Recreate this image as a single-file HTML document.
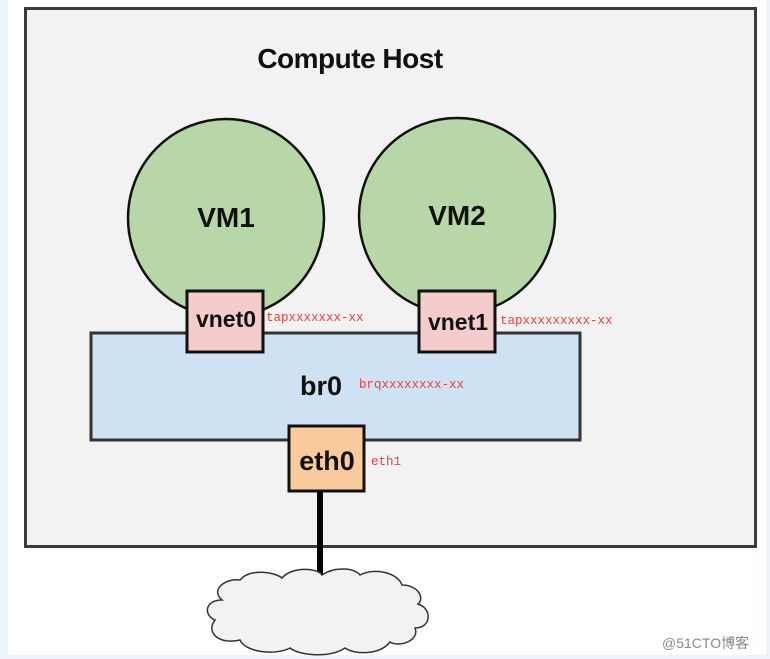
<!DOCTYPE html>
<html><head><style>
body{margin:0;width:770px;height:659px;background:#fff;position:relative;overflow:hidden;font-family:"Liberation Sans",sans-serif}
.a{position:absolute}
.c{position:absolute;text-align:center;font-weight:bold;color:#111}
.lbl{position:absolute;font-family:"Liberation Mono",monospace;color:#f03c3c;font-size:12.5px}
</style></head><body>
<div class="a" style="left:0;top:0;width:8px;height:659px;background:#eef2f9"></div>
<div class="a" style="left:766px;top:0;width:4px;height:659px;background:#eef2f9"></div>
<div class="a" style="left:0;top:655px;width:770px;height:4px;background:#eef2f9"></div>
<div class="a" style="left:24px;top:7px;width:727px;height:535px;background:#f2f2f2;border:3px solid #3a3a3a"></div>
<svg class="a" style="left:0;top:0" width="770" height="659">
<ellipse cx="226" cy="218" rx="98" ry="99" fill="#b7d7a8" stroke="#111" stroke-width="2.5"/>
<ellipse cx="457" cy="216" rx="98" ry="98" fill="#b7d7a8" stroke="#111" stroke-width="2.5"/>
<rect x="91" y="333" width="489" height="107" fill="#cfe2f3" stroke="#333" stroke-width="3"/>
<rect x="187" y="291" width="76" height="61" fill="#f4cccc" stroke="#111" stroke-width="3"/>
<rect x="419" y="291" width="76" height="61" fill="#f4cccc" stroke="#111" stroke-width="3"/>
<rect x="289" y="426" width="75" height="65" fill="#f9cb9c" stroke="#111" stroke-width="3"/>
<line x1="320" y1="491" x2="320" y2="575" stroke="#000" stroke-width="6"/>
<path d="M222 600 C210 590 225 578 240 580 C250 568 275 572 282 578 C292 566 318 568 322 575 C335 566 355 568 360 575 C375 567 398 573 402 585 C418 585 425 598 418 604 C432 608 432 628 415 628 C420 640 400 648 390 642 C380 655 355 655 345 648 C330 658 300 656 290 648 C275 656 245 652 240 640 C220 645 205 633 215 620 C203 615 205 600 222 600 Z" fill="#f2f2f2" stroke="#333" stroke-width="1.5"/>
</svg>
<div class="c" style="left:240px;width:220px;top:43px;font-size:28px;letter-spacing:-0.5px">Compute Host</div>
<div class="c" style="left:176px;width:100px;top:202px;font-size:28px">VM1</div>
<div class="c" style="left:407px;width:100px;top:200px;font-size:28px">VM2</div>
<div class="c" style="left:187px;width:78px;top:306px;font-size:23px">vnet0</div>
<div class="c" style="left:419px;width:78px;top:309px;font-size:23px">vnet1</div>
<div class="c" style="left:280px;width:82px;top:371px;font-size:27px">br0</div>
<div class="c" style="left:287px;width:80px;top:446px;font-size:27px">eth0</div>
<div class="lbl" style="left:266px;top:311px">tapxxxxxxx-xx</div>
<div class="lbl" style="left:500px;top:314px">tapxxxxxxxxx-xx</div>
<div class="lbl" style="left:359px;top:378px">brqxxxxxxxx-xx</div>
<div class="lbl" style="left:371px;top:455px">eth1</div>
<div class="a" style="left:662px;top:633px;font-size:14px;color:#888;font-family:'Liberation Sans','Noto Sans CJK SC',sans-serif">@51CTO博客</div>
</body></html>
